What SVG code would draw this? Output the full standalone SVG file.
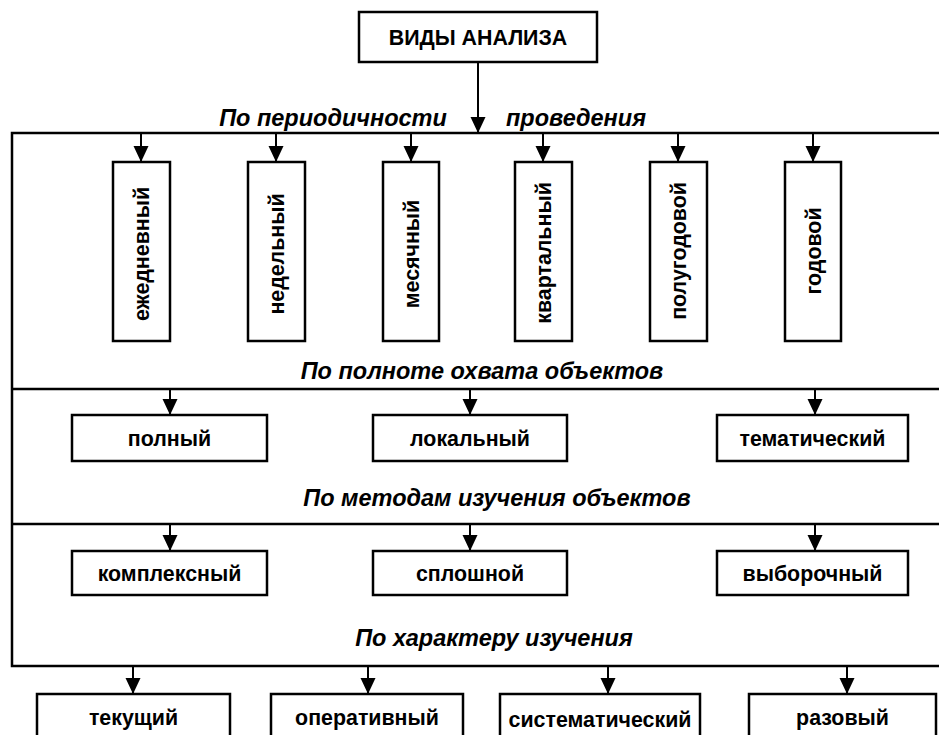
<svg xmlns="http://www.w3.org/2000/svg" width="939" height="735" viewBox="0 0 939 735">
  <style>
    .box { fill: #fff; stroke: #000; stroke-width: 2.5; }
    .frame { fill: none; stroke: #000; stroke-width: 2.5; }
    .lbl { font-family: "Liberation Sans", Arial, sans-serif; font-weight: bold; font-size: 23px; fill: #000; text-anchor: middle; dominant-baseline: central; }
    .cat { font-family: "Liberation Sans", Arial, sans-serif; font-weight: bold; font-style: italic; font-size: 23.5px; fill: #000; text-anchor: middle; dominant-baseline: central; }
    .conn line { stroke: #000; stroke-width: 2; marker-end: url(#arrow); }
  </style>
  <defs>
    <marker id="arrow" markerUnits="userSpaceOnUse" markerWidth="17" markerHeight="17" viewBox="0 0 17 17" refX="16" refY="8.5" orient="auto">
      <path d="M0,1 L16,8.5 L0,16 Z" fill="#000"/>
    </marker>
  </defs>
  <rect width="939" height="735" fill="#fff"/>

  <!-- root node -->
  <g id="root">
    <rect class="box" x="359" y="12" width="238" height="50"/>
    <text class="lbl" transform="translate(478,37) scale(0.93,1)">ВИДЫ АНАЛИЗА</text>
  </g>

  <!-- classification frame with its bands -->
  <g id="frame">
    <rect class="frame" x="12" y="133" width="945" height="533"/>
    <line x1="12" y1="389" x2="939" y2="389" stroke="#000" stroke-width="2.5"/>
    <line x1="12" y1="524" x2="939" y2="524" stroke="#000" stroke-width="2.5"/>
  </g>

  <!-- category captions -->
  <g id="captions">
    <text class="cat" x="333" y="118">По периодичности</text>
    <text class="cat" x="576" y="118">проведения</text>
    <text class="cat" x="482" y="371">По полноте охвата объектов</text>
    <text class="cat" x="497" y="498">По методам изучения объектов</text>
    <text class="cat" x="494" y="638">По характеру изучения</text>
  </g>

  <!-- connectors -->
  <g id="connectors" class="conn">
    <line x1="478" y1="62" x2="478" y2="133"/>
    <line x1="141" y1="133" x2="141" y2="162"/>
    <line x1="276" y1="133" x2="276" y2="162"/>
    <line x1="411" y1="133" x2="411" y2="162"/>
    <line x1="543" y1="133" x2="543" y2="162"/>
    <line x1="678" y1="133" x2="678" y2="162"/>
    <line x1="813" y1="133" x2="813" y2="162"/>
    <line x1="170" y1="389" x2="170" y2="415"/>
    <line x1="470" y1="389" x2="470" y2="415"/>
    <line x1="815" y1="389" x2="815" y2="415"/>
    <line x1="170" y1="524" x2="170" y2="551"/>
    <line x1="470" y1="524" x2="470" y2="551"/>
    <line x1="815" y1="524" x2="815" y2="551"/>
    <line x1="133" y1="666" x2="133" y2="694"/>
    <line x1="368" y1="666" x2="368" y2="694"/>
    <line x1="608" y1="666" x2="608" y2="694"/>
    <line x1="847" y1="666" x2="847" y2="694"/>
  </g>

  <!-- by periodicity -->
  <g id="daily">
    <rect class="box" x="113" y="162" width="57" height="179"/>
    <text class="lbl" transform="translate(141.5,254) rotate(-90) scale(0.93,1)">ежедневный</text>
  </g>
  <g id="weekly">
    <rect class="box" x="248" y="162" width="57" height="179"/>
    <text class="lbl" transform="translate(276.5,254) rotate(-90) scale(0.93,1)">недельный</text>
  </g>
  <g id="monthly">
    <rect class="box" x="383" y="162" width="56" height="179"/>
    <text class="lbl" transform="translate(411,254) rotate(-90) scale(0.93,1)">месячный</text>
  </g>
  <g id="quarterly">
    <rect class="box" x="515" y="162" width="57" height="179"/>
    <text class="lbl" transform="translate(543.5,253) rotate(-90) scale(0.93,1)">квартальный</text>
  </g>
  <g id="halfyear">
    <rect class="box" x="650" y="162" width="57" height="179"/>
    <text class="lbl" transform="translate(678.5,251) rotate(-90) scale(0.93,1)">полугодовой</text>
  </g>
  <g id="yearly">
    <rect class="box" x="785" y="162" width="56" height="179"/>
    <text class="lbl" transform="translate(813,251) rotate(-90) scale(0.93,1)">годовой</text>
  </g>

  <!-- by coverage -->
  <g id="full">
    <rect class="box" x="72" y="415" width="195" height="46"/>
    <text class="lbl" transform="translate(169.5,438) scale(0.93,1)">полный</text>
  </g>
  <g id="local">
    <rect class="box" x="373" y="415" width="194" height="46"/>
    <text class="lbl" transform="translate(470,438) scale(0.93,1)">локальный</text>
  </g>
  <g id="thematic">
    <rect class="box" x="717" y="415" width="191" height="46"/>
    <text class="lbl" transform="translate(812.5,438) scale(0.93,1)">тематический</text>
  </g>

  <!-- by study method -->
  <g id="complex">
    <rect class="box" x="72" y="551" width="195" height="44"/>
    <text class="lbl" transform="translate(169.5,573) scale(0.93,1)">комплексный</text>
  </g>
  <g id="continuous">
    <rect class="box" x="373" y="551" width="194" height="44"/>
    <text class="lbl" transform="translate(470,573) scale(0.93,1)">сплошной</text>
  </g>
  <g id="sample">
    <rect class="box" x="717" y="551" width="191" height="44"/>
    <text class="lbl" transform="translate(812.5,573) scale(0.93,1)">выборочный</text>
  </g>

  <!-- by nature of study -->
  <g id="current">
    <rect class="box" x="37" y="694" width="193" height="60"/>
    <text class="lbl" transform="translate(133.5,717) scale(0.93,1)">текущий</text>
  </g>
  <g id="operative">
    <rect class="box" x="271" y="694" width="192" height="60"/>
    <text class="lbl" transform="translate(367,717) scale(0.93,1)">оперативный</text>
  </g>
  <g id="systematic">
    <rect class="box" x="500" y="694" width="200" height="60"/>
    <text class="lbl" transform="translate(600,719) scale(0.93,1)">систематический</text>
  </g>
  <g id="onetime">
    <rect class="box" x="749" y="694" width="187" height="60"/>
    <text class="lbl" transform="translate(842.5,717) scale(0.93,1)">разовый</text>
  </g>
</svg>
